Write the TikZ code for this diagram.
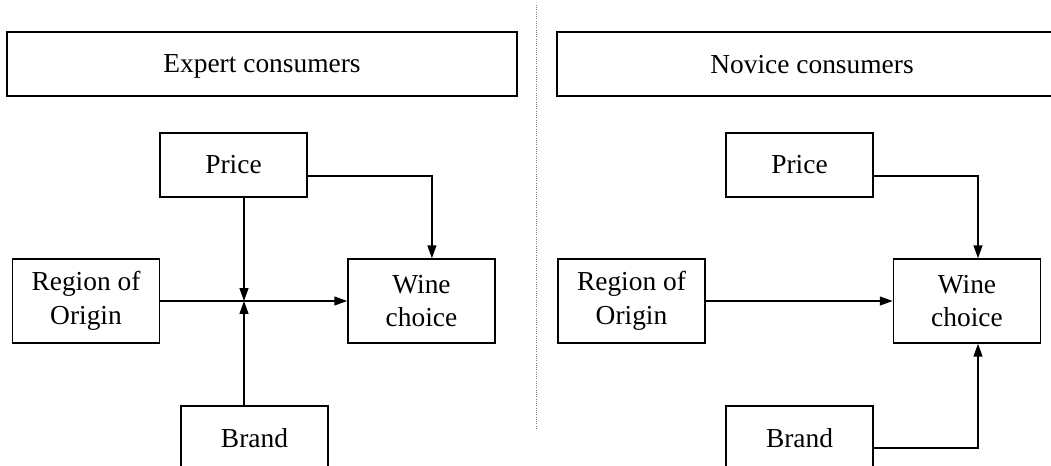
\documentclass[tikz,border=0pt]{standalone}
\usepackage{fontspec}
\setmainfont{Liberation Serif}
\usetikzlibrary{arrows.meta}

\begin{document}
\begin{tikzpicture}[x=0.025cm,y=-0.025cm,
  box/.style={draw,line width=1pt,minimum width=3.68cm,minimum height=1.6cm,
    align=center,inner sep=0pt,font=\fontsize{19.5}{24}\selectfont},
  tall/.style={minimum height=2.1cm},
  head/.style={minimum width=12.75cm,text depth=0pt},
  link/.style={line width=1.1pt,-{Triangle[length=0.32cm,width=0.22cm]}}]
\clip (0,0) rectangle (1051,466);
\node [box,head] (ex) at (262,64) {Expert consumers};
\node [box,head] (nov) at (812,64) {Novice consumers};
\coordinate (t) at (536,5);
\coordinate (u) at (536,430);
\draw [densely dotted,gray,line width=0.6pt] (t) -- (u);

\node [box] (a) at (233.5,165) {Price};
\node [box,tall] (b) at (86,301) {Region of\\Origin};
\node [box,tall] (c) at (421.5,301) {Wine\\choice};
\node [box] (d) at (254.5,438) {Brand};
\coordinate (x) at (244,301);
\draw [link] (a.south -| x) -- (x);
\draw [link] (d.north -| x) -- (x);
\draw [link] (b) -- (c);
\draw [link] ([yshift=-0.28cm]a.east) -| ([xshift=0.26cm]c.north);

\node [box] (e) at (799.5,165) {Price};
\node [box,tall] (f) at (631.5,301) {Region of\\Origin};
\node [box,tall] (g) at (967,301) {Wine\\choice};
\node [box] (h) at (799.5,438) {Brand};
\draw [link] (f) -- (g);
\draw [link] ([yshift=-0.28cm]e.east) -| ([xshift=0.275cm]g.north);
\draw [link] ([yshift=-0.25cm]h.east) -| ([xshift=0.275cm]g.south);
\end{tikzpicture}
\end{document}
